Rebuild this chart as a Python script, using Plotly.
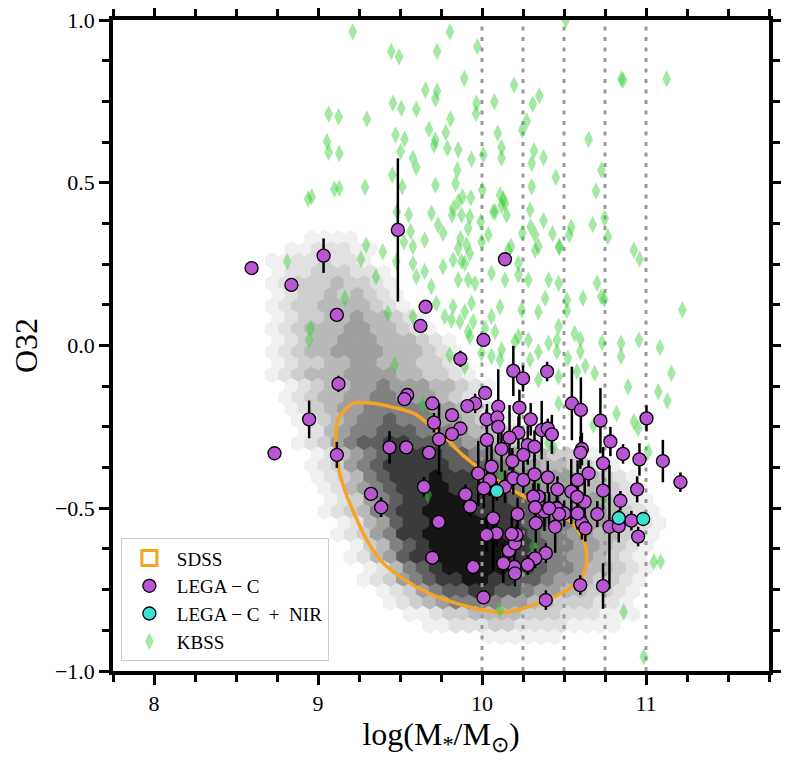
import plotly.graph_objects as go

# SDSS hexbin density, one string per hex row (top row first), 0 = empty, 9 = darkest
sdss_rows = [
    "0001111",
    "01122211",
    "11223221",
    "122333221",
    "1233343321",
    "1233434321",
    "12334444321",
    "123344544321",
    "1234445544321",
    "12344555444321",
    "123445555444321",
    "123344554443321",
    "1234445555443321",
    "01234455655544321",
    "01234455665554321",
    "012345566666554321",
    "0012345667666554321",
    "00124566777666544321",
    "0012356778877765543321",
    "0001245678888776655443321",
    "000123567888887776655443321",
    "0001234678889888776655544321",
    "00001245678899888776655544321",
    "00001235678899988877665554321",
    "000012346788999988877665554321",
    "000001245788999998877665554321",
    "000001235688999999887665544321",
    "00000013467899999988766554321",
    "00000012457889999988766554321",
    "00000001246789999988766544321",
    "00000001235678899887765543321",
    "0000000012356778877655443321",
    "0000000001234566665544333221",
    "0000000000112334444333222111",
    "000000000000112223322221111",
    "0000000000000000111111",
]

# SDSS contour
sdss_cx = [9.22, 9.32, 9.46, 9.59, 9.67, 9.77, 9.89, 10.02, 10.14, 10.26, 10.41, 10.55,
           10.62, 10.64, 10.62, 10.55, 10.45, 10.30, 10.14, 9.98, 9.83, 9.67, 9.53, 9.40,
           9.30, 9.22, 9.16, 9.12, 9.11, 9.12, 9.18, 9.22]
sdss_cy = [-0.177, -0.177, -0.19, -0.21, -0.24, -0.28, -0.34, -0.39, -0.43, -0.465, -0.505, -0.545,
           -0.60, -0.65, -0.70, -0.74, -0.77, -0.80, -0.82, -0.81, -0.79, -0.76, -0.72, -0.67,
           -0.60, -0.515, -0.44, -0.36, -0.28, -0.23, -0.19, -0.177]

# LEGA-C
legac_x = [8.595, 8.838, 9.034, 9.487, 10.140, 9.115, 9.656, 9.625, 10.009, 9.868,
           10.191, 10.250, 10.397, 9.125, 9.544, 9.527, 9.697, 10.019, 9.958, 9.911,
           10.099, 10.228, 10.548, 10.603, 10.722, 11.003, 8.946, 9.817, 9.707, 9.868,
           9.817, 9.738, 10.028, 10.093, 10.099, 10.297, 10.222, 10.168, 10.030, 10.364,
           10.401, 10.426, 10.279, 10.320, 10.119, 10.252, 10.185, 10.058, 9.977, 10.048,
           10.011, 10.140, 10.191, 10.252, 10.320, 10.401, 10.460, 10.544, 10.583, 10.609,
           10.600, 10.650, 10.738, 10.738, 10.783, 10.860, 10.960, 11.103, 10.946, 10.844,
           10.911, 10.777, 10.834, 10.952, 10.703, 10.626, 10.609, 10.630, 10.583, 10.456,
           10.501, 10.470, 10.446, 10.389, 10.324, 10.279, 10.197, 10.201, 10.130, 10.164,
           10.201, 10.211, 10.181, 10.089, 10.028, 10.068, 10.217, 10.328, 10.381, 10.344,
           10.313, 10.324, 10.409, 10.599, 10.738, 10.389, 10.009, 9.697, 9.946, 9.736,
           9.646, 9.899, 9.928, 9.323, 9.385, 9.436, 9.538, 9.677, 9.115, 8.735,
           11.210, 10.580]
legac_y = [0.238, 0.186, 0.276, 0.355, 0.265, 0.094, 0.119, 0.060, 0.017, -0.041,
           -0.078, -0.101, -0.080, -0.118, -0.152, -0.165, -0.178, -0.146, -0.178, -0.186,
           -0.188, -0.191, -0.178, -0.198, -0.231, -0.224, -0.227, -0.214, -0.237, -0.255,
           -0.272, -0.288, -0.227, -0.221, -0.250, -0.227, -0.268, -0.283, -0.290, -0.260,
           -0.255, -0.273, -0.306, -0.311, -0.318, -0.336, -0.355, -0.372, -0.393, -0.413,
           -0.439, -0.434, -0.408, -0.413, -0.396, -0.405, -0.442, -0.449, -0.413, -0.318,
           -0.329, -0.393, -0.362, -0.446, -0.295, -0.333, -0.350, -0.355, -0.442, -0.477,
           -0.538, -0.557, -0.555, -0.587, -0.518, -0.480, -0.546, -0.562, -0.516, -0.500,
           -0.516, -0.518, -0.557, -0.638, -0.654, -0.674, -0.680, -0.700, -0.669, -0.630,
           -0.608, -0.582, -0.579, -0.577, -0.582, -0.531, -0.518, -0.546, -0.510, -0.464,
           -0.464, -0.497, -0.500, -0.736, -0.739, -0.782, -0.774, -0.652, -0.680, -0.542,
           -0.434, -0.457, -0.495, -0.456, -0.497, -0.313, -0.313, -0.329, -0.336, -0.331,
           -0.420, -0.465]
legac_err = [0.01, 0.02, 0.053, 0.22, 0.01, 0.02, 0.015, 0.02, 0.01, 0.025,
             0.077, 0.04, 0.03, 0.025, 0.015, 0.015, 0.015, 0.015, 0.03, 0.015,
             0.115, 0.055, 0.113, 0.10, 0.10, 0.04, 0.058, 0.015, 0.03, 0.015,
             0.015, 0.11, 0.03, 0.02, 0.04, 0.05, 0.05, 0.10, 0.11, 0.09,
             0.03, 0.06, 0.06, 0.05, 0.07, 0.05, 0.04, 0.08, 0.10, 0.05,
             0.06, 0.05, 0.05, 0.04, 0.06, 0.05, 0.04, 0.10, 0.06, 0.05,
             0.05, 0.04, 0.05, 0.06, 0.045, 0.03, 0.05, 0.065, 0.04, 0.03,
             0.03, 0.19, 0.05, 0.03, 0.04, 0.08, 0.05, 0.04, 0.05, 0.05,
             0.04, 0.04, 0.08, 0.03, 0.03, 0.03, 0.04, 0.04, 0.06, 0.04,
             0.04, 0.03, 0.05, 0.04, 0.05, 0.16, 0.05, 0.06, 0.06, 0.04,
             0.04, 0.04, 0.05, 0.03, 0.07, 0.03, 0.02, 0.02, 0.02, 0.02,
             0.03, 0.03, 0.03, 0.02, 0.03, 0.05, 0.02, 0.02, 0.04, 0.01,
             0.03, 0.04]

# LEGA-C + NIR
nir_x = [10.091, 10.834, 10.983]
nir_y = [-0.447, -0.530, -0.533]
nir_err = [0.03, 0.02, 0.02]

# KBSS
kbss_x = [9.212, 9.804, 9.447, 9.494, 9.726, 9.971, 9.892, 9.655, 9.726, 9.716,
          9.457, 9.508, 9.600, 9.065, 9.126, 9.298, 9.808, 9.967, 9.963, 10.075,
          9.677, 9.473, 9.528, 9.716, 9.779, 9.708, 9.789, 9.855, 10.096, 9.055,
          9.065, 9.130, 9.504, 9.579, 9.600, 9.936, 10.008, 9.849, 9.453, 9.514,
          9.716, 9.839, 8.961, 8.940, 9.100, 9.130, 9.287, 10.002, 9.881, 9.932,
          10.110, 9.481, 9.553, 9.692, 9.732, 9.763, 9.818, 9.875, 9.926, 10.069,
          9.824, 9.992, 9.565, 9.651, 9.869, 9.906, 10.039, 9.293, 9.467, 9.524,
          9.579, 9.855, 9.855, 9.916, 9.998, 10.080,
          10.850, 10.860, 11.126, 10.195, 10.350, 10.309, 10.273, 10.246, 10.650, 10.119,
          10.119, 10.317, 10.375, 10.303, 10.728, 10.450, 10.303, 10.695, 10.140, 10.150,
          10.293, 10.375, 10.297, 10.246, 10.324, 10.430, 10.544, 10.532, 10.471, 10.675,
          10.748, 10.767, 10.926, 10.344, 10.177, 10.511, 10.120, 10.130,
          9.477, 9.579, 9.650, 9.763, 9.824, 9.875, 9.926, 9.691, 9.599, 9.855,
          9.916, 9.957, 10.058, 10.140, 10.222, 10.283, 10.161, 10.222, 10.324, 10.406,
          10.467, 9.426, 9.579, 9.722, 9.773, 9.824, 9.895, 9.936, 9.946, 9.865,
          9.814, 10.110, 10.242, 10.344, 10.385, 10.467, 10.018, 10.079, 9.926, 9.997,
          10.058, 10.110, 9.803, 9.895, 9.916, 10.222, 10.201, 10.283, 10.344, 10.406,
          10.457, 9.467, 10.293, 10.344, 10.467, 10.467, 9.640, 10.436, 10.058, 10.120,
          10.471, 10.961, 10.702, 10.616, 10.728, 10.746, 10.518, 10.518, 11.222, 10.565,
          10.600, 10.732, 10.848, 10.957, 11.085, 10.457, 10.600, 10.524, 10.848, 10.630,
          10.579, 10.687, 11.155, 10.891, 11.075, 11.130, 10.820, 10.926, 10.952, 11.014,
          8.813, 9.262, 9.395, 9.354, 9.164, 8.956, 8.946, 9.687, 9.670, 10.119,
          10.313, 10.109, 10.864, 11.048, 11.089, 10.987, 10.344, 10.405, 9.895, 10.680,
          10.740]
kbss_y = [0.964, 0.964, 0.903, 0.887, 0.903, 0.918, 0.821, 0.785, 0.782, 0.757,
          0.744, 0.729, 0.726, 0.711, 0.703, 0.696, 0.696, 0.744, 0.713, 0.749,
          0.664, 0.647, 0.634, 0.631, 0.654, 0.616, 0.606, 0.601, 0.652, 0.626,
          0.594, 0.590, 0.596, 0.575, 0.547, 0.572, 0.585, 0.539, 0.524, 0.488,
          0.493, 0.498, 0.457, 0.450, 0.481, 0.483, 0.486, 0.478, 0.457, 0.454,
          0.462, 0.411, 0.401, 0.406, 0.370, 0.345, 0.401, 0.401, 0.396, 0.411,
          0.421, 0.380, 0.350, 0.324, 0.329, 0.309, 0.340, 0.309, 0.355, 0.319,
          0.304, 0.299, 0.442, 0.360, 0.319, 0.411,
          0.819, 0.815, 0.819, 0.800, 0.767, 0.741, 0.690, 0.662, 0.633, 0.608,
          0.575, 0.598, 0.577, 0.560, 0.539, 0.517, 0.488, 0.475, 0.437, 0.401,
          0.416, 0.383, 0.365, 0.345, 0.340, 0.343, 0.363, 0.340, 0.304, 0.372,
          0.391, 0.334, 0.293, 0.304, 0.304, 1.000, 0.430, 0.450,
          0.258, 0.252, 0.227, 0.242, 0.263, 0.258, 0.283, 0.181, 0.211, 0.201,
          0.201, 0.191, 0.222, 0.201, 0.217, 0.201, 0.293, 0.252, 0.293, 0.201,
          0.191, 0.099, 0.089, 0.130, 0.089, 0.119, 0.104, 0.130, 0.073, 0.073,
          0.078, 0.119, 0.109, 0.104, 0.145, 0.058, 0.053, 0.042, 0.027, -0.024,
          -0.034, -0.044, -0.029, -0.065, 0.042, 0.027, 0.012, 0.017, -0.019, 0.007,
          0.017, -0.060, -0.044, -0.106, -0.096, -0.178, -0.183, -0.311, 0.089, -0.014,
          0.302, 0.265, 0.191, 0.145, 0.150, 0.142, 0.140, 0.107, 0.109, 0.037,
          0.019, 0.009, 0.007, 0.017, -0.006, -0.019, -0.019, -0.039, -0.034, -0.063,
          -0.080, -0.085, -0.085, -0.127, -0.142, -0.170, -0.209, -0.234, -0.255, -0.326,
          0.258, 0.265, 0.288, 0.211, 0.145, 0.053, 0.017, -0.234, -0.459, -0.398,
          -0.618, -0.812, -0.818, -0.664, -0.664, -0.956, -0.413, -0.300, 0.253, -0.245,
          -0.470]

mass_bins = [10.0, 10.25, 10.5, 10.75, 11.0]

FONT = "Liberation Serif"
GREYS = ["#ffffff", "#f0f0f0", "#e1e1e1", "#cecece", "#b9b9b9", "#9f9f9f",
         "#818181", "#5f5f5f", "#3b3b3b", "#151515"]
ORANGE = "rgb(245,165,35)"
HEX_X0, HEX_DX = 8.72, 0.08
HEX_Y0, HEX_DY = 0.33, 0.035

hx, hy, hc = [], [], []
for j, row in enumerate(sdss_rows):
    for i, ch in enumerate(row):
        lev = int(ch)
        if lev == 0:
            continue
        hx.append(HEX_X0 + i * HEX_DX + (HEX_DX / 2 if j % 2 else 0))
        hy.append(HEX_Y0 - j * HEX_DY)
        hc.append(GREYS[lev])

fig = go.Figure()

fig.add_trace(go.Scatter(x=hx, y=hy, mode="markers", showlegend=False, hoverinfo="skip",
                         marker=dict(symbol="hexagon", size=16.5, color=hc, line=dict(width=0))))

# dotted mass bins
vx, vy = [], []
for m in mass_bins:
    vx += [m, m, None]
    vy += [-1.0, 1.0, None]
fig.add_trace(go.Scatter(x=vx, y=vy, mode="lines", showlegend=False, hoverinfo="skip",
                         line=dict(color="#999999", width=3, dash="4px,6.5px")))

fig.add_trace(go.Scatter(x=sdss_cx, y=sdss_cy, mode="lines", showlegend=False, hoverinfo="skip",
                         line_shape="spline", line=dict(color=ORANGE, width=3.5)))
# legend swatch for the contour
fig.add_trace(go.Scatter(x=[None], y=[None], mode="markers", name="SDSS", legendrank=1,
                         marker=dict(symbol="square-open", size=15, color=ORANGE,
                                     line=dict(color=ORANGE, width=3))))

fig.add_trace(go.Scatter(x=kbss_x, y=kbss_y, mode="markers", name="KBSS", legendrank=4,
                         marker=dict(symbol="diamond-tall", size=12.5,
                                     color="rgba(50,205,50,0.45)", line=dict(width=0))))

fig.add_trace(go.Scatter(x=legac_x, y=legac_y, mode="markers", name="LEGA − C", legendrank=2,
                         error_y=dict(type="data", array=legac_err, color="black",
                                      thickness=2.5, width=0),
                         marker=dict(size=13, color="#ba55d3", line=dict(color="black", width=1.3))))

fig.add_trace(go.Scatter(x=nir_x, y=nir_y, mode="markers", name="LEGA − C  +  NIR", legendrank=3,
                         error_y=dict(type="data", array=nir_err, color="black",
                                      thickness=2.5, width=0),
                         marker=dict(size=13, color="#40e0d0", line=dict(color="black", width=1.3))))

axis_common = dict(showline=True, linewidth=3.5, linecolor="black", mirror="allticks",
                   ticks="outside", ticklen=10, tickwidth=2.5, tickcolor="black",
                   showgrid=False, zeroline=False, automargin=False,
                   ticklabeloverflow="allow",
                   tickfont=dict(family=FONT, size=22, color="black"))

fig.update_xaxes(range=[7.75, 11.75], tick0=8, dtick=1,
                 minor=dict(ticks="outside", dtick=0.25, ticklen=7, tickwidth=2.5, tickcolor="black"),
                 title=dict(text="log(M<sub>*</sub>/M<sub>⊙</sub>)", standoff=8,
                            font=dict(family=FONT, size=32, color="black")),
                 **axis_common)
fig.update_yaxes(range=[-1.0, 1.0], tick0=-1, dtick=0.5, tickformat=".1f",
                 minor=dict(ticks="outside", dtick=0.125, ticklen=7, tickwidth=2.5, tickcolor="black"),
                 title=dict(text="O32", standoff=20,
                            font=dict(family=FONT, size=32, color="black")),
                 **axis_common)

# page body adds an 8px offset, so the figure is a little smaller than the window
fig.update_layout(
    width=781, height=753,
    margin=dict(l=105, r=20, t=12, b=90),
    plot_bgcolor="white", paper_bgcolor="white",
    font=dict(family=FONT, color="black"),
    legend=dict(x=0.012, y=0.015, xanchor="left", yanchor="bottom",
                bgcolor="white", bordercolor="#cccccc", borderwidth=1,
                font=dict(family=FONT, size=19, color="black"),
                itemwidth=45, tracegroupgap=2),
)

fig.write_html("out.html")
